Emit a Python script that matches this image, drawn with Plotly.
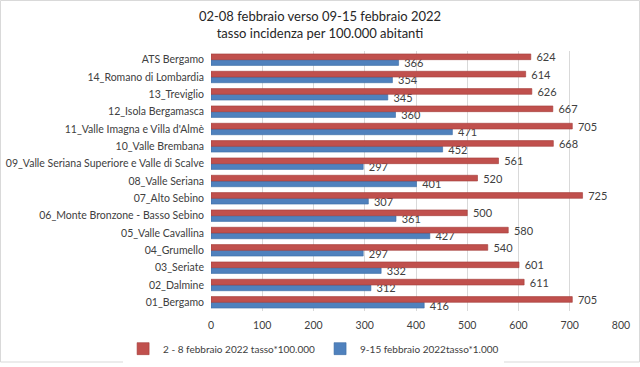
import plotly.graph_objects as go

categories = ["01_Bergamo", "02_Dalmine", "03_Seriate", "04_Grumello", "05_Valle Cavallina",
              "06_Monte Bronzone - Basso Sebino", "07_Alto Sebino", "08_Valle Seriana",
              "09_Valle Seriana Superiore e Valle di Scalve", "10_Valle Brembana",
              "11_Valle Imagna e Villa d'Almè", "12_Isola Bergamasca", "13_Treviglio",
              "14_Romano di Lombardia", "ATS Bergamo"]
feb02_08 = [705, 611, 601, 540, 580, 500, 725, 520, 561, 668, 705, 667, 626, 614, 624]
feb09_15 = [416, 312, 332, 297, 427, 361, 307, 401, 297, 452, 471, 360, 345, 354, 366]
series_names = ["2 - 8 febbraio 2022 tasso*100.000", "9-15 febbraio 2022tasso*1.000"]
x_ticks = [0, 100, 200, 300, 400, 500, 600, 700, 800]

W, H = 640, 367
ML, MR, MT, MB = 211, 19, 51, 56
FONT = "Lato, sans-serif"
TXT = "#404040"

fig = go.Figure()
fig.add_trace(go.Bar(
    y=categories, x=feb09_15, orientation="h", name=series_names[1],
    marker=dict(color="#4F81BD", line=dict(color="#3A6BA5", width=0.6)),
    text=feb09_15, texttemplate="  %{text}", textposition="outside", constraintext="none",
    cliponaxis=False, textfont=dict(size=11, color=TXT, family=FONT), legendrank=2,
))
fig.add_trace(go.Bar(
    y=categories, x=feb02_08, orientation="h", name=series_names[0],
    marker=dict(color="#C0504D", line=dict(color="#A33C39", width=0.6)),
    text=feb02_08, texttemplate="  %{text}", textposition="outside", constraintext="none",
    cliponaxis=False, textfont=dict(size=11, color=TXT, family=FONT), legendrank=1,
))

pw = W - ML - MR
ph = H - MT - MB
fig.add_shape(type="rect", xref="paper", yref="paper",
              x0=(0.5 - ML) / pw, x1=(W - 0.5 - ML) / pw,
              y0=(H - 362 - MB) / ph, y1=(H - 0.5 - MB) / ph,
              line=dict(color="#D9D9D9", width=1), fillcolor="rgba(0,0,0,0)", layer="below")

fig.update_layout(
    width=W, height=H, barmode="group", bargap=0.34, bargroupgap=0,
    margin=dict(l=ML, r=MR, t=MT, b=MB, autoexpand=False),
    paper_bgcolor="white", plot_bgcolor="white",
    font=dict(family=FONT, size=10.5, color=TXT),
    title=dict(text="02-08 febbraio verso 09-15 febbraio 2022<br>tasso incidenza per 100.000 abitanti",
               x=0.5, xref="container", xanchor="center", y=0.942, yref="container", yanchor="middle",
               font=dict(size=13, color="#262626", family=FONT)),
    xaxis=dict(range=[0, 800], tickvals=x_ticks, showgrid=True, gridcolor="#D9D9D9", gridwidth=1,
               zeroline=False, showline=False, ticks="", tickfont=dict(size=10.5), ticklabelstandoff=6,
               automargin=False),
    yaxis=dict(categoryorder="array", categoryarray=categories, showgrid=False, showline=False,
               ticks="", tickfont=dict(size=10.5), ticklabelstandoff=6, automargin=False),
    legend=dict(orientation="h", xref="container", yref="container", x=0.49, xanchor="center",
                y=0.05, yanchor="middle", font=dict(size=10), itemwidth=30,
                traceorder="normal"),
    showlegend=True,
)
fig.write_html("out.html", config={"displayModeBar": False},
               post_script="document.body.style.margin='0';document.body.style.overflow='hidden';")
